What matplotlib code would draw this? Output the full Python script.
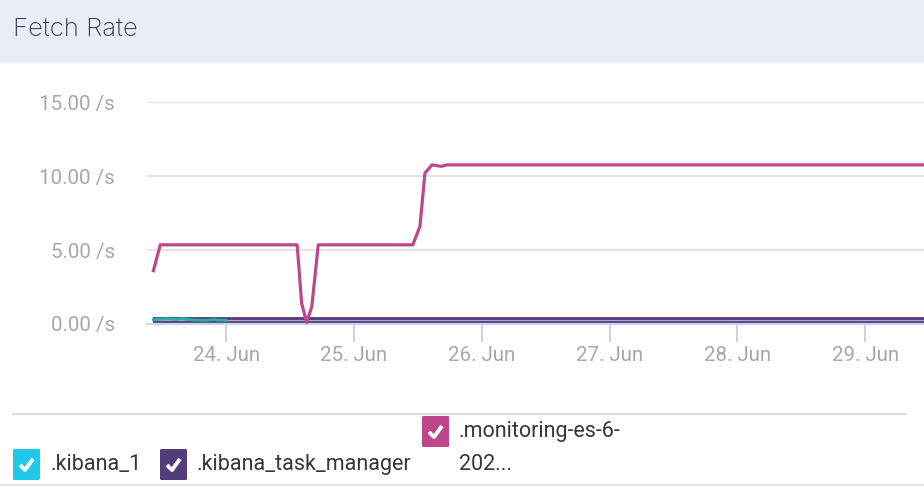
import matplotlib
matplotlib.use("Agg")
import matplotlib.pyplot as plt
from matplotlib.patches import Rectangle, FancyBboxPatch
from matplotlib.lines import Line2D

# data (x = day of June, y = fetches per second)
pink_x = [23.43, 23.484, 24.0, 24.555, 24.59, 24.63, 24.67, 24.72, 25.0, 25.2, 25.46, 25.516, 25.555, 25.61, 25.685, 25.724, 26.5, 27.5, 28.5, 29.5]
pink_y = [3.6, 5.35, 5.35, 5.35, 1.4, 0.1, 1.2, 5.35, 5.35, 5.35, 5.35, 6.6, 10.2, 10.75, 10.65, 10.75, 10.75, 10.75, 10.75, 10.75]
purple_x = [23.43, 24.0, 25.0, 26.0, 27.0, 28.0, 29.0, 29.5]
purple_y = [0.25, 0.25, 0.25, 0.25, 0.25, 0.25, 0.25, 0.25]
cyan_x = [23.43, 23.5, 23.55, 23.6, 23.65, 23.7, 23.75, 23.85, 23.9, 23.95, 24.0]
cyan_y = [0.3, 0.33, 0.35, 0.3, 0.36, 0.3, 0.27, 0.25, 0.3, 0.25, 0.25]

yticks = [0, 5, 10, 15]
ytick_labels = ["0.00 /s", "5.00 /s", "10.00 /s", "15.00 /s"]
xticks = [24, 25, 26, 27, 28, 29]
xtick_labels = ["24. Jun", "25. Jun", "26. Jun", "27. Jun", "28. Jun", "29. Jun"]
legend_names = [".kibana_1", ".kibana_task_manager", ".monitoring-es-6-\n202..."]

c_cyan = "#1ec9ea"
c_purple = "#553c7c"
c_pink = "#be478c"

W, H = 924, 486
fig = plt.figure(figsize=(W / 100, H / 100), dpi=100)
fig.patch.set_facecolor("white")

def fx(px):
    return px / W
def fy(py):
    return 1 - py / H

# header
fig.patches.append(Rectangle((0, fy(63)), 1, 63 / H, transform=fig.transFigure,
                             facecolor="#e9edf5", edgecolor="none", zorder=0))
fig.text(fx(13), fy(36), "Fetch Rate", fontsize=18.5, color="#343a56",
         family="Inter", weight="light", va="baseline", ha="left")

# plot
ax = fig.add_axes([fx(147), fy(324), fx(924) - fx(147), (324 - 102) / H])
ax.set_facecolor("none")
ax.set_xlim(23.38, 29.46)
ax.set_ylim(0, 15)
for s in ["top", "right", "left"]:
    ax.spines[s].set_visible(False)
ax.spines["bottom"].set_color("#c8d4e8")
ax.spines["bottom"].set_linewidth(1.5)
ax.set_yticks(yticks)
ax.set_yticklabels(ytick_labels)
ax.set_xticks(xticks)
ax.set_xticklabels(xtick_labels)
ax.tick_params(axis="y", length=0, pad=23, labelsize=14.8, labelcolor="#a8a8a8")
ax.tick_params(axis="x", length=13, width=1.5, color="#c8d4e8", pad=3,
               labelsize=14.8, labelcolor="#a8a8a8")
for lab in ax.get_xticklabels() + ax.get_yticklabels():
    lab.set_family("Roboto")
ax.grid(axis="y", color="#e3e3e3", linewidth=1.5)
ax.set_axisbelow(True)

ax.plot(cyan_x, cyan_y, color="#22b3a8", linewidth=2, zorder=3)
ax.plot(purple_x, purple_y, color=c_purple, linewidth=4.2, zorder=2, solid_capstyle="butt")
ax.plot(purple_x, purple_y, color="#b8a8d8", linewidth=0.8, zorder=2.5)
ax.plot(pink_x, pink_y, color=c_pink, linewidth=2.3, zorder=4, solid_joinstyle="round")

# legend
fig.add_artist(Line2D([fx(13), fx(905)], [fy(414), fy(414)], color="#dcdcdc", linewidth=1.5))
fig.add_artist(Line2D([fx(0), fx(924)], [fy(485), fy(485)], color="#e6e6e6", linewidth=1.5))

legend_colors = [c_cyan, c_purple, c_pink]
box_pos = [(13, 449), (160, 449), (422, 416)]
text_pos = [(50, 464), (197, 464), (459, 432)]
for name, col, (bx, by), (tx, ty) in zip(legend_names, legend_colors, box_pos, text_pos):
    fig.patches.append(FancyBboxPatch((fx(bx), fy(by + 31)), 27 / W, 31 / H,
                                      boxstyle="round,pad=0,rounding_size=0.002",
                                      transform=fig.transFigure, facecolor=col,
                                      edgecolor="none"))
    # check mark
    cx = [bx + 7, bx + 12, bx + 20]
    cy = [by + 16, by + 21, by + 10]
    fig.add_artist(Line2D([fx(v) for v in cx], [fy(v) for v in cy], color="white",
                          linewidth=2.8, solid_capstyle="butt"))
    # long names wrap onto a second line, 32 px lower
    for i, part in enumerate(name.split("\n")):
        fig.text(fx(tx), fy(ty + 32 * i), part, fontsize=15.5, color="#343741",
                 family="Roboto", va="center", ha="left")

fig.savefig("out.png", dpi=100)
